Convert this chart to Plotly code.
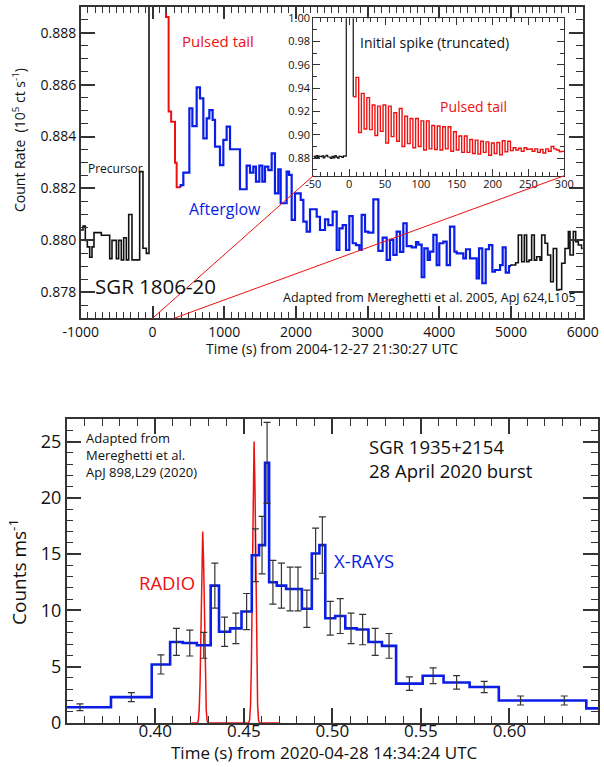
import numpy as np
import plotly.graph_objects as go

W, H = 604, 767

# ---------------- TOP PANEL DATA: SGR 1806-20 (Mereghetti et al. 2005) ----------------
# Step histograms: bin edges (s) and count rates (1e5 ct/s)
pre_edges = [-1000, -969, -937, -909, -876, -844, -816, -714, -597, -565, -504, -472, -435,
             -402, -365, -332, -286, -179, -133, -86, -49, 188]
pre_vals = [0.8804, 0.88055, 0.8800, 0.87975, 0.87935, 0.87975, 0.8803, 0.8802, 0.8793, 0.8800,
            0.8793, 0.8800, 0.87925, 0.8801, 0.87925, 0.8810, 0.87925, 0.88265, 0.8797, 0.8795,
            0.95]

tail_edges = [188, 225, 260, 314, 337, 393]
tail_vals = [0.8886, 0.88496, 0.88457, 0.88299, 0.88205]

glow_edges = [393, 430, 514, 556, 616, 662, 709, 756, 793, 839, 872, 941, 988, 1034, 1081, 1220,
              1313, 1360, 1406, 1443, 1490, 1532, 1569, 1615, 1662, 1708, 1755, 1788, 1871, 1904,
              1941, 1987, 2067, 2104, 2150, 2197, 2290, 2336, 2406, 2452, 2513, 2569, 2606, 2652,
              2699, 2745, 2792, 2838, 2885, 2917, 2964, 3010, 3080, 3150, 3210, 3266, 3312, 3359,
              3405, 3452, 3498, 3545, 3615, 3675, 3708, 3754, 3791, 3838, 3870, 3917, 3963, 4000,
              4056, 4103, 4149, 4210, 4242, 4335, 4372, 4428, 4475, 4521, 4554, 4600, 4647, 4693,
              4740, 4777, 4847, 4884, 4926, 4972, 5000]
glow_vals = [0.88213, 0.88261, 0.88509, 0.8844, 0.88589, 0.88547, 0.88393, 0.8847, 0.88502, 0.88464,
             0.88361, 0.8829, 0.88387, 0.88438, 0.88351, 0.88197, 0.88288, 0.88261, 0.88284, 0.88226,
             0.88288, 0.88226, 0.88284, 0.88271, 0.88335, 0.88181, 0.88274, 0.88143, 0.88265, 0.88252,
             0.88079, 0.88181, 0.88156, 0.88072, 0.88034, 0.8812, 0.88091, 0.8804, 0.88081, 0.88059,
             0.88111, 0.87963, 0.88046, 0.88059, 0.87963, 0.88094, 0.87989, 0.87982, 0.87963, 0.88098,
             0.88034, 0.8803, 0.88158, 0.8796, 0.88011, 0.87925, 0.88002, 0.87944, 0.88034, 0.87956,
             0.88066, 0.87978, 0.87973, 0.87993, 0.87984, 0.87858, 0.87969, 0.87925, 0.87957, 0.88021,
             0.87905, 0.87989, 0.87995, 0.87905, 0.88053, 0.87957, 0.8795, 0.87931, 0.87966, 0.87931,
             0.87931, 0.87854, 0.87969, 0.87835, 0.87966, 0.87982, 0.8788, 0.87886, 0.87905, 0.87973,
             0.87876, 0.87901]

post_edges = [5000, 5065, 5102, 5149, 5186, 5218, 5251, 5288, 5325, 5358, 5404, 5428, 5474, 5511,
              5553, 5590, 5637, 5669, 5707, 5753, 5800, 5823, 5869, 5902, 5939, 5985, 6032]
post_vals = [0.87905, 0.87914, 0.88021, 0.87918, 0.88021, 0.87918, 0.87924, 0.88021, 0.87924,
             0.87937, 0.87924, 0.88021, 0.87989, 0.87944, 0.87841, 0.87969, 0.87809, 0.87811,
             0.87912, 0.87969, 0.88034, 0.87944, 0.88034, 0.87995, 0.87982, 0.87969]

top_xticks = [-1000, 0, 1000, 2000, 3000, 4000, 5000, 6000]
top_xlabels = ["-1000", "0", "1000", "2000", "3000", "4000", "5000", "6000"]

# Inset (zoom on first 300 s)
ins_pre_start, ins_pre_dt = -50.0, 2.0
ins_pre_vals = [0.8815, 0.8805, 0.8822, 0.8808, 0.8818, 0.8812, 0.8820, 0.8803, 0.8817, 0.8825,
                0.8812, 0.8808, 0.8798, 0.8815, 0.8803, 0.8822, 0.8810, 0.8800, 0.8818, 0.8815,
                0.8806, 0.8820, 0.8818]
ins_spike_end, ins_spike_val = 5.7, 1.2
ins_tail_start, ins_tail_dt = 5.7, 3.78
ins_tail_vals = [0.9327, 0.9493, 0.9020, 0.9356, 0.9050, 0.9320, 0.9045, 0.9256, 0.8995, 0.9247,
                 0.9030, 0.9256, 0.8930, 0.9247, 0.8985, 0.9190, 0.8945, 0.9227, 0.8900, 0.9160,
                 0.8925, 0.9140, 0.8890, 0.9140, 0.8900, 0.9120, 0.8870, 0.9120, 0.8880, 0.9080,
                 0.8875, 0.9076, 0.8870, 0.9070, 0.8880, 0.9070, 0.8860, 0.9027, 0.8870, 0.8990,
                 0.8850, 0.8990, 0.8850, 0.8960, 0.8840, 0.8955, 0.8835, 0.8945, 0.8850, 0.8940,
                 0.8825, 0.8930, 0.8840, 0.8935, 0.8830, 0.8950, 0.8855, 0.8945, 0.8865, 0.8890,
                 0.8870, 0.8885, 0.8860, 0.8890, 0.8875, 0.8880, 0.8860, 0.8880, 0.8850, 0.8875,
                 0.8845, 0.8880, 0.8860, 0.8900, 0.8880, 0.8870, 0.8855, 0.8860]
ins_xticks = [-50, 0, 50, 100, 150, 200, 250, 300]
ins_xlabels = ["-50", "0", "50", "100", "150", "200", "250", "300"]

# ---------------- BOTTOM PANEL DATA: SGR 1935+2154 (Mereghetti et al. 2020) ----------------
xr_edges = [0.34, 0.375, 0.398, 0.4084, 0.4155, 0.4235, 0.4313, 0.436, 0.4423, 0.4487, 0.4545,
            0.4586, 0.462, 0.4643, 0.4686, 0.4739, 0.4784, 0.4828, 0.4884, 0.4927, 0.496, 0.5016,
            0.5073, 0.5138, 0.5204, 0.528, 0.536, 0.551, 0.5628, 0.5775, 0.594, 0.6185, 0.6434, 0.67]
xr_rate = [1.4, 2.3, 5.2, 7.2, 7.1, 6.9, 12.2, 8.1, 8.4, 9.9, 14.9, 15.8, 23.1, 12.5, 12.2, 11.9,
           11.9, 10.15, 15.05, 15.8, 9.3, 9.5, 8.4, 8.3, 7.2, 6.85, 3.5, 4.2, 3.6, 3.2, 2.0, 2.0, 1.3]
xr_err = [0.3, 0.4, 0.85, 1.2, 1.15, 1.15, 2.0, 1.3, 1.35, 1.6, 2.35, 2.55, 3.6, 1.95, 2.0, 1.95,
          1.95, 1.65, 2.25, 2.5, 1.5, 1.55, 1.35, 1.35, 1.2, 1.1, 0.6, 0.7, 0.6, 0.5, 0.4, 0.4, 0.4]

radio_t = [0.4205, 0.4238, 0.4243, 0.4248, 0.4253, 0.4258, 0.4263, 0.4268, 0.4273, 0.4278, 0.4283,
           0.4288, 0.4293, 0.4298, 0.4528, 0.4533, 0.4538, 0.4543, 0.4548, 0.4553, 0.4558, 0.4563,
           0.4568, 0.4573, 0.4578, 0.4583, 0.4588, 0.4705]
radio_flux = [0, 0, 0.2, 1.1, 3.6, 8.5, 14.3, 17.0, 14.3, 8.5, 3.6, 1.1, 0.2, 0, 0, 0.3, 1.6, 5.3,
              12.5, 21.0, 25.0, 21.0, 12.5, 5.3, 1.6, 0.3, 0, 0]

bot_xticks = [0.40, 0.45, 0.50, 0.55, 0.60]
bot_xlabels = ["0.40", "0.45", "0.50", "0.55", "0.60"]


# ---------------- helpers ----------------
def steps(edges, vals, lead=None, tail=None):
    xs, ys = [], []
    if lead is not None:
        xs.append(edges[0]); ys.append(lead)
    for i, v in enumerate(vals):
        xs += [edges[i], edges[i + 1]]
        ys += [v, v]
    if tail is not None:
        xs.append(edges[-1]); ys.append(tail)
    return xs, ys


def fx(px):
    return min(1.0, max(0.0, px / W))


def fy(py):
    return min(1.0, max(0.0, 1 - py / H))


BLACK = "#111111"
BLUE = "#0a1ee6"
RED = "#ee1111"
AX = "#333333"
FONT = "Open Sans"

# domains (from window pixel geometry of the reference)
top_x = [fx(80.8), fx(582.7)]
top_y = [fy(318.3), fy(6.7)]
ins_x = [fx(313.3), fx(564.3)]
ins_y = [fy(175.7), fy(18.3)]
bot_x = [fx(66.7), fx(598.0)]
bot_y = [fy(723.0), fy(419.0)]

fig = go.Figure()

# top main panel
for e, v, col, lead, w in [
    (pre_edges, pre_vals, BLACK, None, 1.6),
    (tail_edges, tail_vals, RED, pre_vals[-1], 2.0),
    (glow_edges, glow_vals, BLUE, tail_vals[-1], 2.2),
    (post_edges, post_vals, BLACK, glow_vals[-1], 1.6),
]:
    xs, ys = steps(e, v, lead=lead)
    fig.add_trace(go.Scatter(x=xs, y=ys, mode="lines", line=dict(color=col, width=w),
                             xaxis="x", yaxis="y", showlegend=False, hoverinfo="skip"))

# inset
ins_pre_edges = list(ins_pre_start + ins_pre_dt * np.arange(len(ins_pre_vals) + 1)) + [ins_spike_end]
xs, ys = steps(ins_pre_edges, ins_pre_vals + [ins_spike_val], tail=ins_tail_vals[0])
fig.add_trace(go.Scatter(x=xs, y=ys, mode="lines", line=dict(color=BLACK, width=1.2),
                         xaxis="x2", yaxis="y2", showlegend=False, hoverinfo="skip"))
ins_tail_edges = list(ins_tail_start + ins_tail_dt * np.arange(len(ins_tail_vals) + 1))
xs, ys = steps(ins_tail_edges, ins_tail_vals)
fig.add_trace(go.Scatter(x=xs, y=ys, mode="lines", line=dict(color=RED, width=1.4),
                         xaxis="x2", yaxis="y2", showlegend=False, hoverinfo="skip"))

# bottom panel
fig.add_trace(go.Scatter(x=radio_t, y=radio_flux, mode="lines", line=dict(color=RED, width=1.5),
                         xaxis="x3", yaxis="y3", showlegend=False, hoverinfo="skip"))
xs, ys = steps(xr_edges, xr_rate)
fig.add_trace(go.Scatter(x=xs, y=ys, mode="lines", line=dict(color=BLUE, width=2.6),
                         xaxis="x3", yaxis="y3", showlegend=False, hoverinfo="skip"))
xr_centers = [(xr_edges[i] + xr_edges[i + 1]) / 2 for i in range(len(xr_rate))]
fig.add_trace(go.Scatter(x=xr_centers, y=xr_rate, mode="markers", marker=dict(size=1, color="rgba(0,0,0,0)"),
                         error_y=dict(type="data", array=xr_err, visible=True, color="#333333",
                                      thickness=1.2, width=3.5),
                         xaxis="x3", yaxis="y3", showlegend=False, hoverinfo="skip", cliponaxis=True))


def axstyle(**kw):
    d = dict(showline=True, linecolor=AX, linewidth=1.5, mirror="allticks", ticks="inside",
             tickcolor=AX, showgrid=False, zeroline=False, fixedrange=True, automargin=False,
             tickfont=dict(family=FONT, color="#111111"))
    d.update(kw)
    return d


layout = dict(
    width=W, height=H, margin=dict(l=0, r=0, t=0, b=0, pad=0, autoexpand=False),
    paper_bgcolor="white", plot_bgcolor="white", showlegend=False,
    font=dict(family=FONT, color="#111111"),
    xaxis=axstyle(domain=top_x, anchor="y", range=[-1000, 6000], tickmode="array",
                  tickvals=top_xticks, ticktext=top_xlabels, ticklen=13, tickwidth=1.5,
                  tickfont=dict(family=FONT, size=14, color="#111111"),
                  minor=dict(tickmode="linear", tick0=-1000, dtick=100, ticklen=7, tickwidth=1,
                             ticks="inside", tickcolor=AX)),
    yaxis=axstyle(domain=top_y, anchor="x", range=[0.877, 0.889], tick0=0.878, dtick=0.002,
                  tickformat=".3f", ticklen=14, tickwidth=1.5,
                  tickfont=dict(family=FONT, size=14, color="#111111"),
                  minor=dict(tickmode="linear", tick0=0.877, dtick=0.0005, ticklen=7, tickwidth=1,
                             ticks="inside", tickcolor=AX)),
    xaxis2=axstyle(domain=ins_x, anchor="y2", range=[-50, 300], tickmode="array",
                   tickvals=ins_xticks, ticktext=ins_xlabels, ticklen=7, tickwidth=1.2,
                   linewidth=1.2, tickfont=dict(family=FONT, size=11, color="#111111"),
                   ticklabelstandoff=-2,
                   minor=dict(tickmode="linear", tick0=-50, dtick=10, ticklen=4, tickwidth=1,
                              ticks="inside", tickcolor=AX)),
    yaxis2=axstyle(domain=ins_y, anchor="x2", range=[0.865, 1.0], tick0=0.88, dtick=0.02,
                   tickformat=".2f", ticklen=7, tickwidth=1.2, linewidth=1.2,
                   tickfont=dict(family=FONT, size=11, color="#111111"),
                   minor=dict(tickmode="linear", tick0=0.87, dtick=0.01, ticklen=4, tickwidth=1,
                              ticks="inside", tickcolor=AX)),
    xaxis3=axstyle(domain=bot_x, anchor="y3", range=[0.35, 0.65], tickmode="array",
                   tickvals=bot_xticks, ticktext=bot_xlabels, ticklen=15, tickwidth=1.5,
                   tickfont=dict(family=FONT, size=17, color="#111111"),
                   ticklabelstandoff=-8,
                   minor=dict(tickmode="linear", tick0=0.35, dtick=0.01, ticklen=7, tickwidth=1,
                              ticks="inside", tickcolor=AX)),
    yaxis3=axstyle(domain=bot_y, anchor="x3", range=[0, 27], tick0=0, dtick=5, ticklen=15,
                   tickwidth=1.5, tickfont=dict(family=FONT, size=18, color="#111111"),
                   minor=dict(tickmode="linear", tick0=0, dtick=1, ticklen=7, tickwidth=1,
                              ticks="inside", tickcolor=AX)),
)
fig.update_layout(**layout)


def note(text, px, py, size, color="#111111", xanchor="left", yanchor="middle", angle=0, align="left"):
    fig.add_annotation(text=text, x=fx(px), y=fy(py), xref="paper", yref="paper", showarrow=False,
                       xanchor=xanchor, yanchor=yanchor, textangle=angle, align=align,
                       font=dict(family=FONT, size=size, color=color))


# top panel texts
note("Pulsed tail", 180, 41, 15, RED)
note("Precursor", 86, 168, 12)
note("Afterglow", 187, 209, 16, BLUE)
note("SGR 1806-20", 93, 286, 20.5)
note("Adapted from Mereghetti et al. 2005, ApJ 624,L105", 578, 297, 12.5, xanchor="right")
note("Initial spike (truncated)", 358, 42, 14)
note("Pulsed tail", 438, 106, 14, RED)
note("Time (s) from 2004-12-27 21:30:27 UTC", 332, 348, 14, xanchor="center")
note("Count Rate  (10<sup>5</sup> ct s<sup>-1</sup>)", 19, 140, 14, xanchor="center", angle=-90)

# bottom panel texts
note("Adapted from<br>Mereghetti et al.<br>ApJ 898,L29 (2020)", 84, 455, 13)
note("SGR 1935+2154<br>28 April 2020 burst", 367, 458, 18.5)
note("RADIO", 137, 582, 18.5, RED)
note("X-RAYS", 332, 560, 18.5, BLUE)
note("Time (s) from 2020-04-28 14:34:24 UTC", 324, 766, 17, xanchor="center", yanchor="bottom")
note("Counts ms<sup>-1</sup>", 18, 572, 19, xanchor="center", angle=-90)


# connector lines from main-panel time axis to the inset corners
def main_paper_x(t):
    return top_x[0] + (t + 1000) / 7000 * (top_x[1] - top_x[0])


for t_main, corner_x in [(ins_xticks[0] + 50, ins_x[0]), (ins_xticks[-1], ins_x[1])]:
    fig.add_shape(type="line", xref="paper", yref="paper",
                  x0=main_paper_x(t_main), y0=top_y[0], x1=corner_x, y1=ins_y[0],
                  line=dict(color=RED, width=1), layer="above")

# remove the default 8 px page margin so the figure fills the window exactly
fig.write_html("out.html", config={"displayModeBar": False},
               post_script="document.body.style.margin='0';document.body.style.overflow='hidden';")
